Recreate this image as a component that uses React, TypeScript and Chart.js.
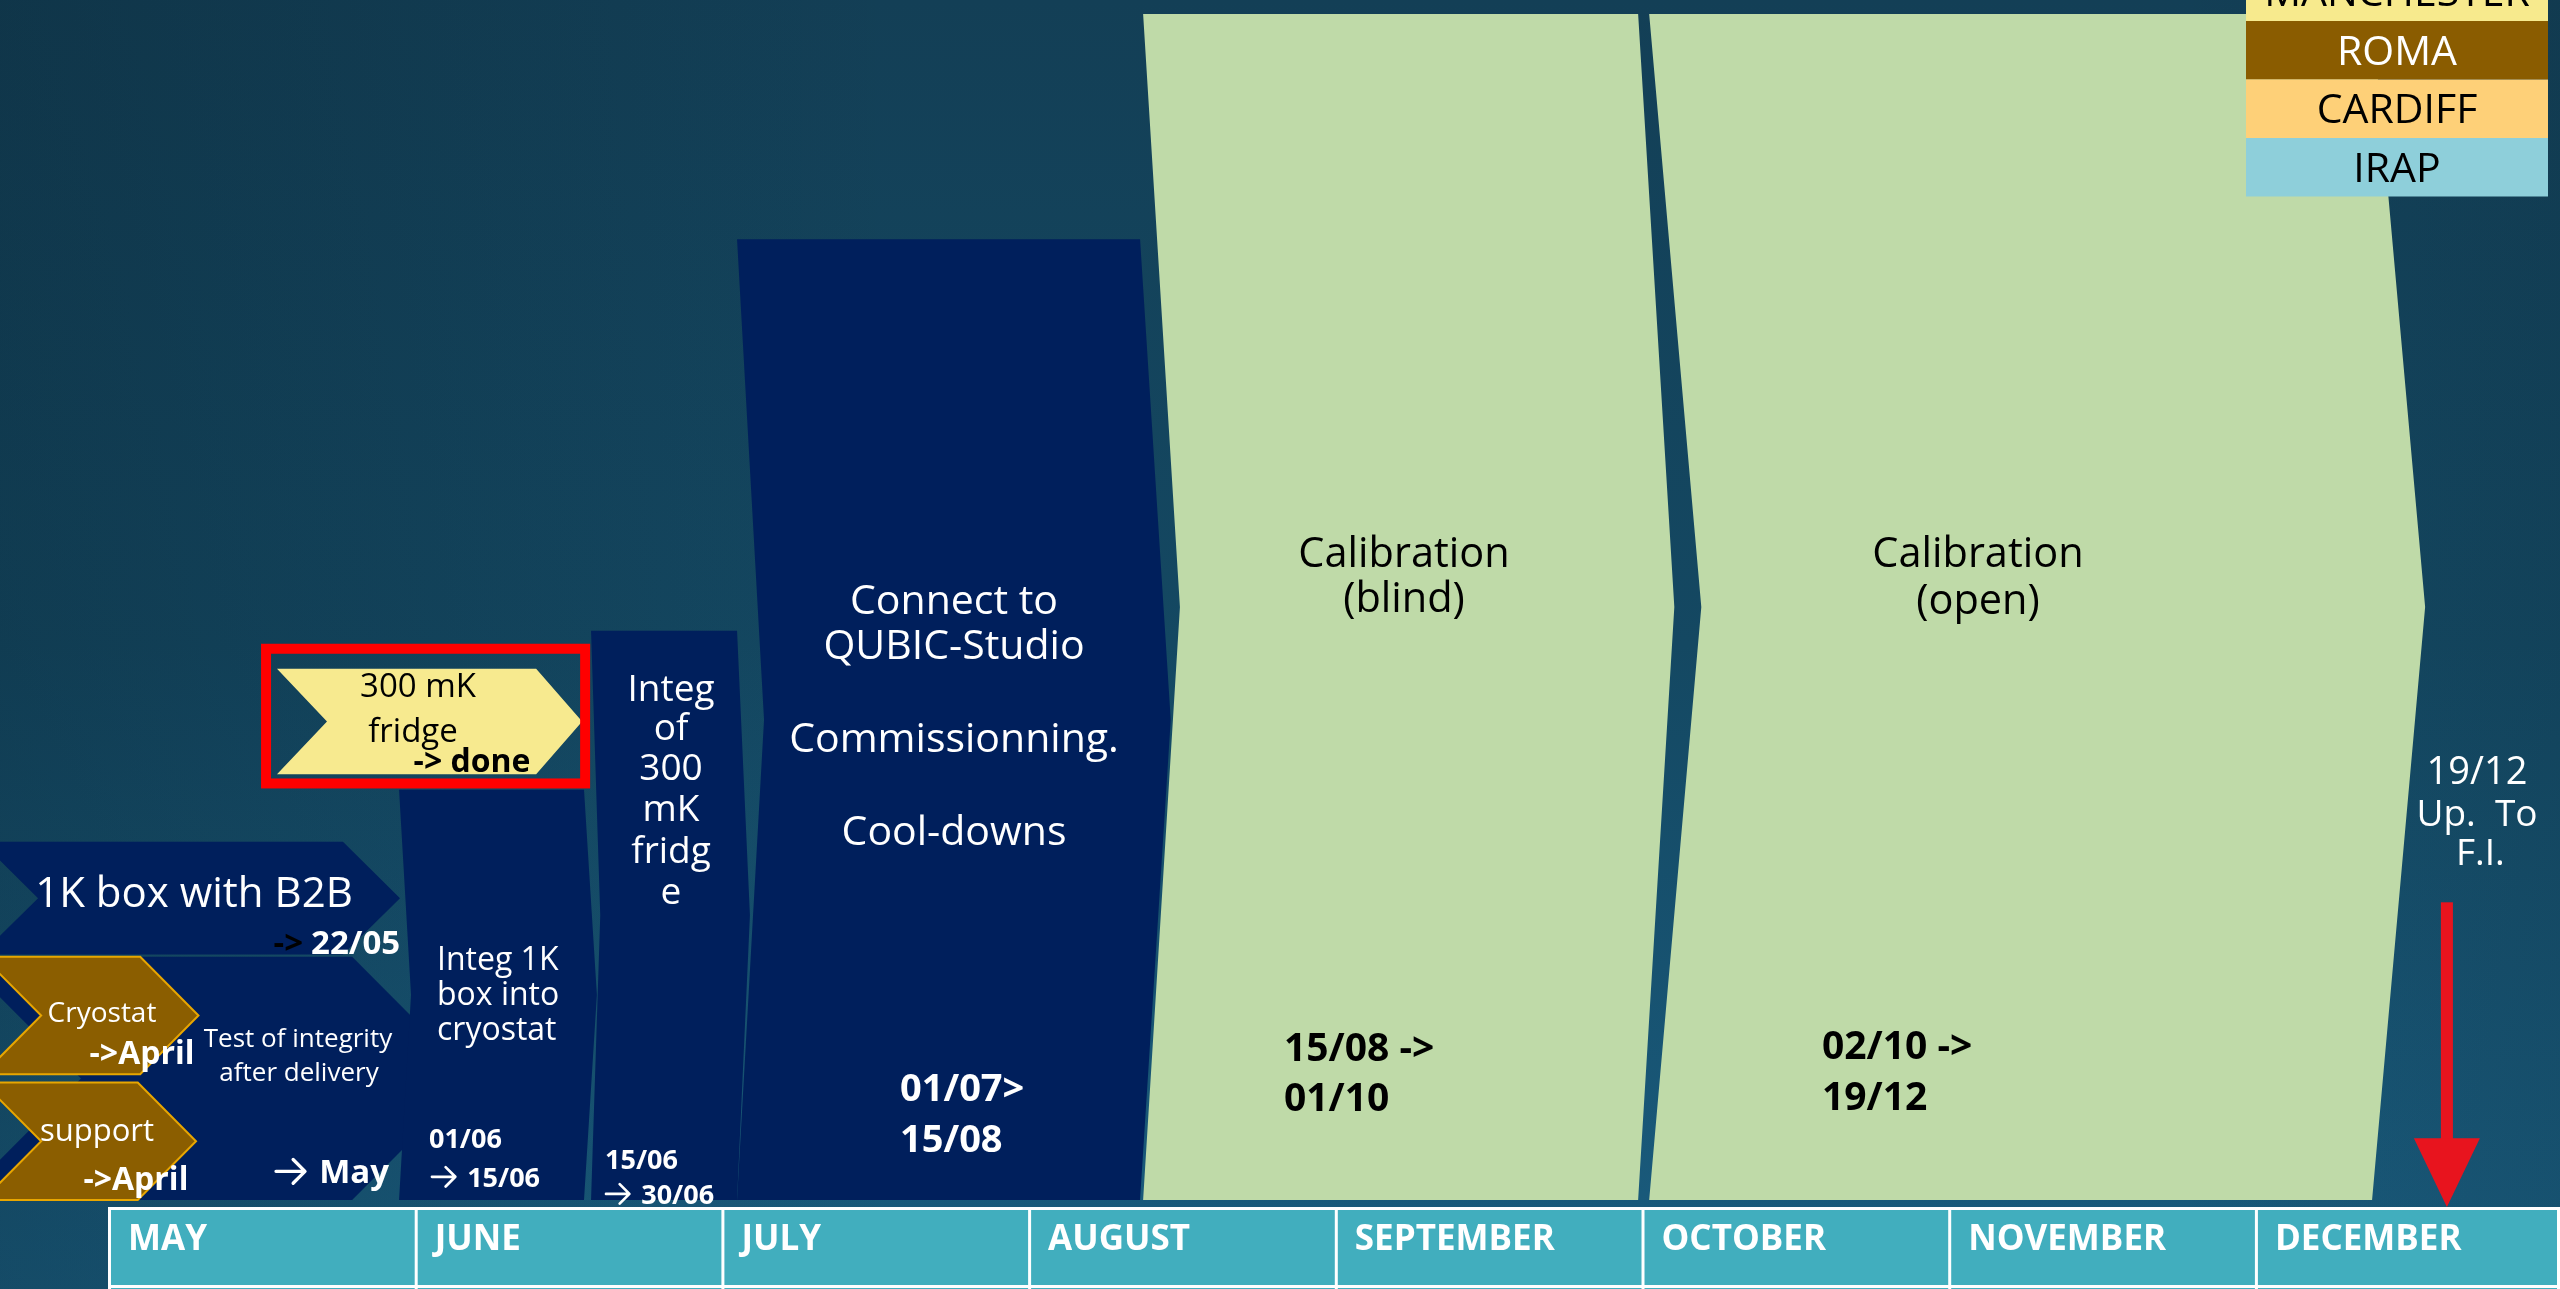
import React, { useEffect, useRef } from 'react';
import { Chart, registerables } from 'chart.js';

Chart.register(...registerables);

// ---------- data ----------
// time axis: months since 1 May; level axis: 0 = timeline baseline, 100 = top of the plan
const months = ['MAY', 'JUNE', 'JULY', 'AUGUST', 'SEPTEMBER', 'OCTOBER', 'NOVEMBER', 'DECEMBER'];

const taskNames = [
  'Test of integrity after delivery',
  'Cryostat',
  'Support',
  '1K box with B2B',
  'Integ 1K box into cryostat',
  'Integ of 300 mK fridge',
  'Connect to QUBIC-Studio / Commissionning / Cool-downs',
  'Calibration (blind)',
  'Calibration (open)',
  '300 mK fridge',
];
const taskStart = [-0.483, -0.408, -0.408, -0.414, 0.949, 1.575, 2.051, 3.375, 5.025, 0.551];
const taskEnd = [0.796, 0.105, 0.097, 0.766, 1.552, 2.051, 3.365, 4.989, 7.382, 1.396];
const taskLow = [0, 10.6, 0, 20.7, 0, 0, 0, 0, 0, 35.9];
const taskHigh = [20.5, 20.5, 9.9, 30.2, 34.6, 48, 81, 100, 100, 44.8];

// highlighted task frame (300 mK fridge)
const focusStart = 0.499;
const focusEnd = 1.572;
const focusLow = 34.7;
const focusHigh = 46.9;

// milestone arrow 19/12
const milestoneDate = 7.626;
const milestoneFrom = 25.1;
const milestoneHead = 5.2;
const milestoneTo = -0.6;

const partners = ['MANCHESTER', 'ROMA', 'CARDIFF', 'IRAP'];

// ---------- styles ----------
const NAVY = '#001f5c';
const GREEN = '#bfdaa8';
const BROWN = '#8b5e00';
const YELLOW = '#f7ea8f';
const NONE = 'rgba(0,0,0,0)';
const taskFill = [NAVY, BROWN, BROWN, NAVY, NAVY, NAVY, NAVY, GREEN, GREEN, YELLOW];
const taskBorder = [NONE, '#e8a600', '#e8a600', NONE, NONE, NONE, NONE, NONE, NONE, NONE];
const taskBorderWidth = [0, 2, 2, 0, 0, 0, 0, 0, 0, 0];
const taskNotch = [0.395, 0.19, 0.19, 0.186, 0.039, 0.03, 0.088, 0.12, 0.17, 0.163];
const taskTip = [0.395, 0.19, 0.19, 0.186, 0.042, 0.042, 0.1, 0.118, 0.173, 0.15];

const partnerFill = ['#f7ea8d', '#8a5c00', '#fed078', '#8ecfda'];
const partnerText = ['#000000', '#ffffff', '#000000', '#000000'];

type Note = { t: string; x: number; y: number; s: number; b?: boolean; c: string; a?: CanvasTextAlign };
const W = '#ffffff';
const K = '#000000';
const notes: Note[] = [
  { t: '1K box with B2B', x: 0.2804, y: 26.05, s: 42, c: W },
  { t: '->', x: 0.636, y: 21.84, s: 33, b: true, c: K, a: 'right' },
  { t: '22/05', x: 0.662, y: 21.84, s: 33, b: true, c: W, a: 'left' },
  { t: 'Cryostat', x: -0.0196, y: 16.02, s: 28, c: W },
  { t: '->April', x: 0.111, y: 12.56, s: 32, b: true, c: W },
  { t: 'support', x: -0.036, y: 6.07, s: 31, c: W },
  { t: '->April', x: 0.091, y: 1.94, s: 32, b: true, c: W },
  { t: 'Test of integrity', x: 0.6195, y: 13.83, s: 26, c: W },
  { t: 'after delivery', x: 0.6228, y: 10.96, s: 26, c: W },
  { t: '\u2192 May', x: 0.5445, y: 2.53, s: 33, b: true, c: W, a: 'left' },
  { t: '300 mK', x: 1.011, y: 43.51, s: 33, c: K },
  { t: 'fridge', x: 0.9945, y: 39.71, s: 33, c: K },
  { t: '-> done', x: 1.187, y: 37.18, s: 32, b: true, c: K },
  { t: 'Integ 1K', x: 1.0727, y: 20.49, s: 32, c: W, a: 'left' },
  { t: 'box into', x: 1.0727, y: 17.54, s: 32, c: W, a: 'left' },
  { t: 'cryostat', x: 1.0727, y: 14.59, s: 32, c: W, a: 'left' },
  { t: '01/06', x: 1.0466, y: 5.4, s: 27, b: true, c: W, a: 'left' },
  { t: '\u2192 15/06', x: 1.053, y: 2.11, s: 27, b: true, c: W, a: 'left' },
  { t: 'Integ', x: 1.8357, y: 43.34, s: 37, c: W },
  { t: 'of', x: 1.8357, y: 40.05, s: 37, c: W },
  { t: '300', x: 1.8357, y: 36.68, s: 37, c: W },
  { t: 'mK', x: 1.8357, y: 33.22, s: 37, c: W },
  { t: 'fridg', x: 1.8357, y: 29.68, s: 37, c: W },
  { t: 'e', x: 1.8357, y: 26.22, s: 37, c: W },
  { t: '15/06', x: 1.6205, y: 3.63, s: 27, b: true, c: W, a: 'left' },
  { t: '\u2192 30/06', x: 1.6205, y: 0.67, s: 27, b: true, c: W, a: 'left' },
  { t: 'Connect to', x: 2.7584, y: 50.76, s: 41, c: W },
  { t: 'QUBIC-Studio', x: 2.7584, y: 46.96, s: 41, c: W },
  { t: 'Commissionning.', x: 2.7584, y: 39.12, s: 41, c: W },
  { t: 'Cool-downs', x: 2.7584, y: 31.28, s: 41, c: W },
  { t: '01/07>', x: 2.5823, y: 9.61, s: 38, b: true, c: W, a: 'left' },
  { t: '15/08', x: 2.5823, y: 5.31, s: 38, b: true, c: W, a: 'left' },
  { t: 'Calibration', x: 4.2256, y: 54.72, s: 41.5, c: K },
  { t: '(blind)', x: 4.2256, y: 50.93, s: 41.5, c: K },
  { t: '15/08 ->', x: 3.8344, y: 12.98, s: 39, b: true, c: K, a: 'left' },
  { t: '01/10', x: 3.8344, y: 8.77, s: 39, b: true, c: K, a: 'left' },
  { t: 'Calibration', x: 6.0971, y: 54.72, s: 41.5, c: K },
  { t: '(open)', x: 6.0971, y: 50.76, s: 41.5, c: K },
  { t: '02/10 ->', x: 5.5885, y: 13.15, s: 39, b: true, c: K, a: 'left' },
  { t: '19/12', x: 5.5885, y: 8.85, s: 39, b: true, c: K, a: 'left' },
  { t: '19/12', x: 7.7242, y: 36.34, s: 38, c: W },
  { t: 'Up.  To', x: 7.7242, y: 32.72, s: 37, c: W },
  { t: 'F.I.', x: 7.735, y: 29.43, s: 37, c: W },
];

const X_MIN = -0.35214;
const X_MAX = 7.99476;
const Y_MIN = -7.505;
const Y_MAX = 101.18;

const FONT = '"Open Sans", "Noto Sans", sans-serif';
const TEXT_SHIFT = 4;

function chevron(i: number) {
  const x0 = taskStart[i];
  const x1 = taskEnd[i];
  const lo = taskLow[i];
  const hi = taskHigh[i];
  const mid = (lo + hi) / 2;
  return [
    { x: x0, y: lo },
    { x: x0 + taskNotch[i], y: mid },
    { x: x0, y: hi },
    { x: x1, y: hi },
    { x: x1 + taskTip[i], y: mid },
    { x: x1, y: lo },
    { x: x0, y: lo },
  ];
}

const backgroundPlugin = {
  id: 'slideBackground',
  beforeDraw(chart: any) {
    const { ctx, width, height } = chart;
    ctx.save();
    const g = ctx.createLinearGradient(0, 0, 0, height);
    g.addColorStop(0, '#133f56');
    g.addColorStop(0.5, '#144862');
    g.addColorStop(1, '#1a5c7e');
    ctx.fillStyle = g;
    ctx.fillRect(0, 0, width, height);
    const h = ctx.createLinearGradient(0, 0, width, 0);
    h.addColorStop(0, 'rgba(5,25,35,0.25)');
    h.addColorStop(0.35, 'rgba(5,25,35,0.0)');
    h.addColorStop(0.85, 'rgba(5,25,35,0.0)');
    h.addColorStop(1, 'rgba(5,25,35,0.12)');
    ctx.fillStyle = h;
    ctx.fillRect(0, 0, width, height);
    ctx.restore();
  },
};

function drawArrowGlyph(ctx: CanvasRenderingContext2D, x: number, y: number, s: number, color: string) {
  const w = 0.94 * s;
  const hh = 0.36 * s;
  ctx.save();
  ctx.strokeStyle = color;
  ctx.lineWidth = Math.max(2, 0.1 * s);
  ctx.lineCap = 'round';
  ctx.lineJoin = 'round';
  ctx.beginPath();
  ctx.moveTo(x + 1, y);
  ctx.lineTo(x + w - 2, y);
  ctx.moveTo(x + w - hh - 1, y - hh);
  ctx.lineTo(x + w - 1, y);
  ctx.lineTo(x + w - hh - 1, y + hh);
  ctx.stroke();
  ctx.restore();
  return w;
}

const overlayPlugin = {
  id: 'slideOverlay',
  afterDatasetsDraw(chart: any) {
    const { ctx, width, height } = chart;
    const xs = chart.scales.x;
    const ys = chart.scales.y;
    const px = (v: number) => xs.getPixelForValue(v);
    const py = (v: number) => ys.getPixelForValue(v);
    ctx.save();

    // focus frame
    ctx.strokeStyle = '#ff0000';
    ctx.lineWidth = 10;
    const fx0 = px(focusStart) + 5;
    const fx1 = px(focusEnd) - 5;
    const fy0 = py(focusHigh) + 5;
    const fy1 = py(focusLow) - 5;
    ctx.strokeRect(fx0, fy0, fx1 - fx0, fy1 - fy0);

    // legend (partners)
    const lx = 2246;
    const lw = 302;
    const rh = 58.5;
    partners.forEach((p, i) => {
      const top = -37.5 + i * rh;
      ctx.fillStyle = partnerFill[i];
      ctx.fillRect(lx, top, lw, rh);
      ctx.fillStyle = partnerText[i];
      ctx.font = `41px ${FONT}`;
      ctx.textAlign = 'center';
      ctx.textBaseline = 'middle';
      ctx.fillText(p, lx + lw / 2, top + rh / 2 + 3);
    });

    // month band (time axis)
    const bandTop = py(-0.6);
    const bandBottom = height;
    ctx.fillStyle = '#41aebe';
    ctx.fillRect(px(0), bandTop, px(months.length) - px(0), bandBottom - bandTop);
    ctx.strokeStyle = '#ffffff';
    ctx.lineWidth = 3;
    ctx.beginPath();
    ctx.moveTo(px(0), bandTop + 1.5);
    ctx.lineTo(px(months.length), bandTop + 1.5);
    ctx.moveTo(px(0), height - 2.5);
    ctx.lineTo(px(months.length), height - 2.5);
    for (let i = 0; i <= months.length; i++) {
      const x = Math.min(px(i), width - 3);
      ctx.moveTo(x + 1.5, bandTop);
      ctx.lineTo(x + 1.5, height);
    }
    ctx.stroke();
    ctx.fillStyle = '#ffffff';
    ctx.font = `bold 35px ${FONT}`;
    ctx.textAlign = 'left';
    ctx.textBaseline = 'middle';
    months.forEach((m, i) => {
      ctx.fillText(m, px(i) + 20, bandTop + 33);
    });

    // notes
    notes.forEach((n) => {
      const x = px(n.x);
      const y = py(n.y) + TEXT_SHIFT;
      ctx.fillStyle = n.c;
      ctx.textBaseline = 'middle';
      ctx.font = `${n.b ? 'bold ' : ''}${n.s}px ${FONT}`;
      if (n.t.startsWith('\u2192')) {
        const aw = drawArrowGlyph(ctx, x, y - 0.08 * n.s, n.s, n.c);
        ctx.textAlign = 'left';
        ctx.fillText(n.t.slice(1).trim(), x + aw + n.s * 0.4, y);
        return;
      }
      ctx.textAlign = n.a || 'center';
      ctx.fillText(n.t, x, y);
    });

    // milestone arrow
    const ax = px(milestoneDate);
    const aTop = py(milestoneFrom);
    const aHead = py(milestoneHead);
    const aTip = py(milestoneTo);
    ctx.fillStyle = '#e8141e';
    ctx.fillRect(ax - 6, aTop, 12, aHead - aTop + 1);
    ctx.beginPath();
    ctx.moveTo(ax - 33, aHead);
    ctx.lineTo(ax + 33, aHead);
    ctx.lineTo(ax, aTip);
    ctx.closePath();
    ctx.fill();

    ctx.restore();
  },
};

export default function App() {
  const ref = useRef<HTMLCanvasElement | null>(null);

  useEffect(() => {
    if (!ref.current) return;
    const datasets = taskNames.map((name, i) => ({
      label: name,
      data: chevron(i),
      fill: 'shape',
      backgroundColor: taskFill[i],
      borderColor: taskBorder[i],
      borderWidth: taskBorderWidth[i],
      pointRadius: 0,
      pointHoverRadius: 0,
      tension: 0,
      order: taskNames.length - i,
    }));
    const chart = new Chart(ref.current, {
      type: 'line',
      data: { datasets } as any,
      options: {
        animation: false,
        responsive: false,
        maintainAspectRatio: false,
        devicePixelRatio: 1,
        layout: { padding: 0 },
        events: [],
        plugins: {
          legend: { display: false },
          tooltip: { enabled: false },
        },
        scales: {
          x: { type: 'linear', min: X_MIN, max: X_MAX, display: false },
          y: { type: 'linear', min: Y_MIN, max: Y_MAX, display: false },
        },
      } as any,
      plugins: [backgroundPlugin, overlayPlugin],
    });
    return () => chart.destroy();
  }, []);

  return (
    <div style={{ position: 'fixed', left: 0, top: 0, width: 2560, height: 1289, overflow: 'hidden' }}>
      <canvas ref={ref} width={2560} height={1289} style={{ display: 'block', width: 2560, height: 1289 }} />
    </div>
  );
}
